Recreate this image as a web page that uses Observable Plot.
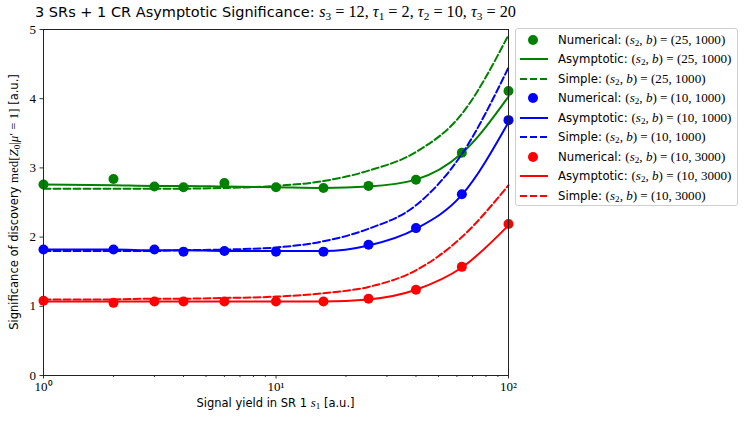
<!DOCTYPE html>
<html><head><meta charset="utf-8">
<script src="https://cdn.jsdelivr.net/npm/d3@7"></script>
<script src="https://cdn.jsdelivr.net/npm/@observablehq/plot@0.6"></script>
<style>
body{margin:0;background:#fff;}
#wrap{position:relative;width:748px;height:423px;overflow:hidden;font-family:"DejaVu Sans",sans-serif;color:#000;}
#wrap svg{position:absolute;left:0;top:0;}
.m{font-family:"Liberation Serif",serif;font-size:1.12em;}
.m sub{font-size:70%;vertical-align:-0.25em;line-height:0;}
#title{position:absolute;left:0;top:3px;width:551px;text-align:center;font-size:14.5px;white-space:nowrap;}
#xlabel{position:absolute;left:0;top:397px;width:551px;text-align:center;font-size:11.5px;line-height:12px;white-space:nowrap;}
#ylabel{position:absolute;left:14px;top:202px;transform:translate(-50%,-50%) rotate(-90deg);font-size:11.5px;white-space:nowrap;}
#legend{position:absolute;left:515px;top:28px;width:223px;height:178px;border:1px solid #cfcfcf;border-radius:3px;box-sizing:border-box;padding-top:1px;background:rgba(255,255,255,0.8);}
.row{height:19.5px;display:flex;align-items:center;font-size:11.7px;white-space:nowrap;}
.row svg{position:static !important;margin-left:3px;margin-right:9px;flex:none;}
</style></head><body><div id="wrap"></div>
<script>
// x values (signal yield in SR 1)
const s1 = [1, 2, 3, 4, 6, 10, 16, 25, 40, 63, 100];
const configs = ["(25,1000)", "(10,1000)", "(10,3000)"];
const configLabels = ["(25, 1000)", "(10, 1000)", "(10, 3000)"];
const colors = ["#008000", "#0000ff", "#ff0000"];

// (s2,b) = (25,1000)
const numerical_25_1000  = [2.76, 2.84, 2.73, 2.72, 2.78, 2.72, 2.71, 2.74, 2.83, 3.22, 4.11];
const asymptotic_25_1000 = [2.76, 2.75, 2.74, 2.74, 2.73, 2.72, 2.71, 2.73, 2.83, 3.21, 4.03];
const simple_25_1000     = [2.70, 2.70, 2.70, 2.70, 2.71, 2.74, 2.81, 2.96, 3.23, 3.78, 4.92];
// (s2,b) = (10,1000)
const numerical_10_1000  = [1.82, 1.82, 1.82, 1.79, 1.80, 1.79, 1.79, 1.89, 2.13, 2.62, 3.69];
const asymptotic_10_1000 = [1.82, 1.82, 1.81, 1.81, 1.80, 1.80, 1.80, 1.88, 2.12, 2.61, 3.66];
const simple_10_1000     = [1.80, 1.80, 1.80, 1.81, 1.82, 1.85, 1.94, 2.12, 2.46, 3.20, 4.45];
// (s2,b) = (10,3000)
const numerical_10_3000  = [1.08, 1.05, 1.07, 1.07, 1.07, 1.07, 1.07, 1.11, 1.24, 1.57, 2.19];
const asymptotic_10_3000 = [1.07, 1.07, 1.07, 1.07, 1.07, 1.07, 1.07, 1.10, 1.24, 1.56, 2.17];
const simple_10_3000     = [1.10, 1.10, 1.11, 1.11, 1.12, 1.14, 1.19, 1.28, 1.52, 2.00, 2.75];

// ticks
const xMajorTicks = [1, 10, 100];
const xMajorLabels = ["10⁰", "10¹", "10²"];
const xMinorTicks = [2,3,4,5,6,7,8,9,20,30,40,50,60,70,80,90];
const yTicks = [0, 1, 2, 3, 4, 5];

const numericalSets = [numerical_25_1000, numerical_10_1000, numerical_10_3000];
const asymptoticSets = [asymptotic_25_1000, asymptotic_10_1000, asymptotic_10_3000];
const simpleSets = [simple_25_1000, simple_10_1000, simple_10_3000];

const toRows = sets => sets.flatMap((vals, i) => vals.map((z, j) => ({s1: s1[j], z, config: configs[i]})));
const numRows = toRows(numericalSets);
const asymRows = toRows(asymptoticSets);
const simpleRows = toRows(simpleSets);

const serif = "Liberation Serif, serif";
const plot = Plot.plot({
  width: 748, height: 423,
  marginTop: 29, marginBottom: 48, marginLeft: 43, marginRight: 240,
  x: {type: "log", domain: [1, 100]},
  y: {domain: [0, 5]},
  color: {domain: configs, range: colors},
  marks: [
    Plot.axisX({ticks: xMinorTicks, tickSize: 2, tickFormat: () => "", label: null, strokeWidth: 0.8}),
    Plot.axisX({ticks: xMajorTicks, tickSize: 3.5, tickPadding: 3, tickFormat: d => xMajorLabels[xMajorTicks.indexOf(d)], label: null, fontFamily: serif, fontSize: 13, strokeWidth: 0.8}),
    Plot.axisY({ticks: yTicks, tickSize: 3.5, tickPadding: 4, tickFormat: d => String(d), label: null, fontFamily: serif, fontSize: 13, strokeWidth: 0.8}),
    Plot.dot(numRows, {x: "s1", y: "z", fill: "config", r: 5}),
    Plot.line(asymRows, {x: "s1", y: "z", stroke: "config", z: "config", strokeWidth: 2, curve: "monotone-x"}),
    Plot.line(simpleRows, {x: "s1", y: "z", stroke: "config", z: "config", strokeWidth: 2, strokeDasharray: "7,3", curve: "monotone-x"}),
    Plot.frame({stroke: "#222", strokeWidth: 1})
  ]
});
const wrap = document.getElementById("wrap");
wrap.appendChild(plot);

const div = (id, html) => { const d = document.createElement("div"); d.id = id; d.innerHTML = html; wrap.appendChild(d); return d; };
div("title", '3 SRs + 1 CR Asymptotic Significance: <span class="m"><i>s</i><sub>3</sub> = 12, <i>τ</i><sub>1</sub> = 2, <i>τ</i><sub>2</sub> = 10, <i>τ</i><sub>3</sub> = 20</span>');
div("xlabel", 'Signal yield in SR 1 <span class="m"><i>s</i><sub>1</sub></span> [a.u.]');
div("ylabel", 'Significance of discovery <span class="m">med[<i>Z</i><sub>0</sub>|<i>μ</i>′ = 1]</span> [a.u.]');

const legend = div("legend", "");
const kinds = ["Numerical", "Asymptotic", "Simple"];
configs.forEach((c, i) => {
  kinds.forEach(k => {
    const row = document.createElement("div");
    row.className = "row";
    let sw;
    if (k === "Numerical") sw = `<svg width="30" height="12"><circle cx="14" cy="6" r="5" fill="${colors[i]}"/></svg>`;
    else sw = `<svg width="30" height="12"><line x1="1" x2="29" y1="6" y2="6" stroke="${colors[i]}" stroke-width="2" ${k === "Simple" ? 'stroke-dasharray="7,3"' : ''}/></svg>`;
    row.innerHTML = sw + `<span>${k}: <span class="m">(<i>s</i><sub>2</sub>, <i>b</i>) = ${configLabels[i]}</span></span>`;
    legend.appendChild(row);
  });
});
</script>
</body></html>
